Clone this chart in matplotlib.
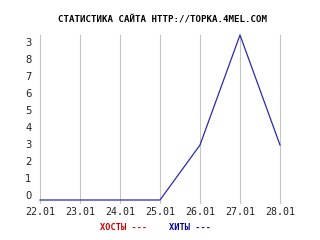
import matplotlib
matplotlib.use('Agg')
import matplotlib.pyplot as plt

dates = ['22.01', '23.01', '24.01', '25.01', '26.01', '27.01', '28.01']
hits = [0, 0, 0, 0, 3, 9, 3]
ylabels = ['0', '1', '2', '3', '4', '5', '6', '7', '8', '3']

fig = plt.figure(figsize=(3.2, 2.4), dpi=100)
fig.patch.set_facecolor('white')
ax = fig.add_axes([40/320, 40/240, 240/320, 165/240])

x = list(range(len(dates)))
ax.plot(x, hits, color='#2a2ab0', lw=0.9, clip_on=False, zorder=3)

ax.set_xlim(0, 6)
ax.set_ylim(0, 9)

# y labels sit on their own 17px grid, not on the data scale
unit = 165 / 9
ax.set_yticks([(5 + 17*k) / unit for k in range(len(ylabels))])
ax.set_yticklabels(ylabels, fontsize=7.2, family='DejaVu Sans', color='#222222')
ax.set_xticks(x)
ax.set_xticklabels(dates, fontsize=7.2, family='DejaVu Sans Mono', color='#222222')
ax.tick_params(axis='both', length=0)
ax.tick_params(axis='y', pad=6)
ax.tick_params(axis='x', pad=5)

for xi in x:
    ax.plot([xi, xi], [-0.15, 9], color='#c4c4c4', lw=0.75, clip_on=False,
            zorder=1, snap=True)

for s in ax.spines.values():
    s.set_visible(False)

fig.text(163/320, 1 - 20/240, 'СТАТИСТИКА САЙТА HTTP://TOPKA.4MEL.COM',
         ha='center', va='center', fontsize=6.6, family='DejaVu Sans Mono',
         fontweight='bold', color='black')
fig.text(100/320, 1 - 228/240, 'ХОСТЫ ---', ha='left', va='center',
         fontsize=6.2, family='DejaVu Sans Mono', fontweight='bold', color='#cc0000')
fig.text(169/320, 1 - 228/240, 'ХИТЫ ---', ha='left', va='center',
         fontsize=6.2, family='DejaVu Sans Mono', fontweight='bold', color='#000099')

fig.savefig('out.png', dpi=100)
